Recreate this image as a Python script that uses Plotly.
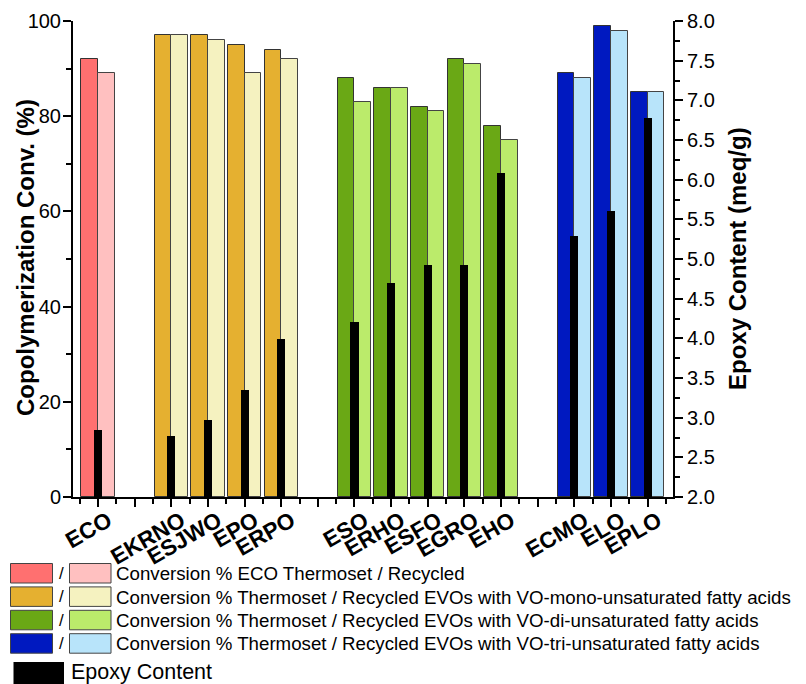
import plotly.graph_objects as go

# ---------------- data ----------------
group_members = [
    ["ECO"],
    ["EKRNO", "ESJWO", "EPO", "ERPO"],
    ["ESO", "ERHO", "ESFO", "EGRO", "EHO"],
    ["ECMO", "ELO", "EPLO"],
]
thermoset = [
    [92],
    [97, 97, 95, 94],
    [88, 86, 82, 92, 78],
    [89, 99, 85],
]
recycled = [
    [89],
    [97, 96, 89, 92],
    [83, 86, 81, 91, 75],
    [88, 98, 85],
]
epoxy = [
    [2.85],
    [2.77, 2.97, 3.35, 3.99],
    [4.20, 4.70, 4.93, 4.93, 6.09],
    [5.29, 5.61, 6.78],
]
legend_texts = [
    "Conversion % ECO Thermoset / Recycled",
    "Conversion % Thermoset / Recycled EVOs with VO-mono-unsaturated fatty acids",
    "Conversion % Thermoset / Recycled EVOs with VO-di-unsaturated fatty acids",
    "Conversion % Thermoset / Recycled EVOs with VO-tri-unsaturated fatty acids",
]
epoxy_label = "Epoxy Content"
left_title = "Copolymerization Conv. (%)"
right_title = "Epoxy Content (meq/g)"
y2_ticks = [2.0, 2.5, 3.0, 3.5, 4.0, 4.5, 5.0, 5.5, 6.0, 6.5, 7.0, 7.5, 8.0]

# ---------------- style ----------------
dark_colors = ["#FF7070", "#E5B030", "#6AA815", "#0019C0"]
light_colors = ["#FFC0C0", "#F5F2C0", "#BBEB6B", "#B8E4FA"]
FONT = "Liberation Sans, Arial, sans-serif"
OFF = 8  # page body margin of the browser
W, H = 806 - OFF, 684 - OFF
ML, MT = 65, 13
PW, PH = 600, 476
MR, MB = W - ML - PW, H - MT - PH

# positions: one empty slot between groups
positions = []
pos = 1
for members in group_members:
    p = []
    for _ in members:
        p.append(pos)
        pos += 1
    positions.append(p)
    pos += 1

tickvals = list(range(1, pos - 1))
ticktext = [""] * len(tickvals)
for members, p in zip(group_members, positions):
    for name, x in zip(members, p):
        ticktext[x - 1] = name

fig = go.Figure()
bw = 0.455
for gi in range(len(group_members)):
    fig.add_trace(go.Bar(
        x=positions[gi], y=thermoset[gi], width=bw, offset=-bw,
        marker=dict(color=dark_colors[gi], line=dict(color="#333333", width=1)),
        showlegend=False, yaxis="y"))
    fig.add_trace(go.Bar(
        x=positions[gi], y=recycled[gi], width=bw, offset=0,
        marker=dict(color=light_colors[gi], line=dict(color="#444444", width=1)),
        showlegend=False, yaxis="y"))

all_x = [x for p in positions for x in p]
all_e = [v for g in epoxy for v in g]
fig.add_trace(go.Bar(
    x=all_x, y=all_e, width=0.22, offset=-0.11,
    marker=dict(color="black", line=dict(width=0)),
    showlegend=False, yaxis="y2"))

# ---------------- legend & titles (manual, reference pixel coords) ----------------
def px2x(px):
    return (px - OFF - ML) / PW

def py2y(py):
    return (H - MB - (py - OFF)) / PH

shapes = []
annotations = []
row_top = 563.5
pitch = 23.4
for i in range(4):
    t = row_top + i * pitch
    b = t + 19.5
    shapes.append(dict(type="rect", xref="paper", yref="paper",
                       x0=px2x(10.5), x1=px2x(52.5), y0=py2y(b), y1=py2y(t),
                       fillcolor=dark_colors[i], line=dict(color="#444444", width=1)))
    shapes.append(dict(type="rect", xref="paper", yref="paper",
                       x0=px2x(69.5), x1=px2x(111), y0=py2y(b), y1=py2y(t),
                       fillcolor=light_colors[i], line=dict(color="#444444", width=1)))
    annotations.append(dict(xref="paper", yref="paper", x=px2x(61), y=py2y((t + b) / 2),
                            text="/", showarrow=False, xanchor="center", yanchor="middle",
                            font=dict(family=FONT, size=17, color="black")))
    annotations.append(dict(xref="paper", yref="paper", x=px2x(114), y=py2y((t + b) / 2 + 0.5),
                            text=legend_texts[i], showarrow=False, xanchor="left", yanchor="middle",
                            font=dict(family=FONT, size=18.7, color="black")))
shapes.append(dict(type="rect", xref="paper", yref="paper",
                   x0=px2x(13.5), x1=px2x(64), y0=py2y(690), y1=py2y(662),
                   fillcolor="black", line=dict(color="black", width=0)))
annotations.append(dict(xref="paper", yref="paper", x=px2x(69), y=py2y(671.5),
                        text=epoxy_label, showarrow=False, xanchor="left", yanchor="middle",
                        font=dict(family=FONT, size=21.5, color="black")))
annotations.append(dict(xref="paper", yref="paper", x=px2x(25), y=py2y(258),
                        text=left_title, showarrow=False, xanchor="center", yanchor="middle",
                        textangle=-90,
                        font=dict(family=FONT, size=24, color="black", weight="bold")))
annotations.append(dict(xref="paper", yref="paper", x=px2x(737), y=py2y(259),
                        text=right_title, showarrow=False, xanchor="center", yanchor="middle",
                        textangle=-90,
                        font=dict(family=FONT, size=24, color="black", weight="bold")))

fig.update_layout(
    width=W, height=H,
    margin=dict(l=ML, r=MR, t=MT, b=MB, autoexpand=False),
    barmode="overlay",
    bargap=0,
    plot_bgcolor="white", paper_bgcolor="white",
    font=dict(family=FONT, size=18, color="black"),
    shapes=shapes, annotations=annotations,
    xaxis=dict(range=[0.32, 16.69], tickmode="array", tickvals=tickvals, ticktext=ticktext,
               tickangle=-30, tickfont=dict(family=FONT, size=22.5, color="black", weight="bold"),
               ticklabelshift=10, ticklabelstandoff=-8,
               showline=True, linecolor="black", linewidth=2, mirror=False,
               ticks="outside", ticklen=8, tickwidth=2, tickcolor="black",
               minor=dict(tickmode="linear", tick0=0.5, dtick=1, ticks="outside", ticklen=5,
                          tickwidth=2, tickcolor="black"),
               showgrid=False, zeroline=False, fixedrange=True),
    yaxis=dict(range=[0, 100], tickvals=[0, 20, 40, 60, 80, 100],
               showline=True, linecolor="black", linewidth=2,
               ticks="outside", ticklen=8, tickwidth=2, tickcolor="black",
               ticklabelstandoff=-2,
               minor=dict(tickmode="linear", tick0=0, dtick=10, ticks="outside", ticklen=5,
                          tickwidth=2, tickcolor="black"),
               tickfont=dict(family=FONT, size=20, color="black"),
               showgrid=False, zeroline=False),
    yaxis2=dict(range=[2, 8], overlaying="y", side="right", anchor="x",
                tickvals=y2_ticks, ticktext=[f"{v:.1f}" for v in y2_ticks],
                showline=True, linecolor="black", linewidth=2,
                ticks="outside", ticklen=8, tickwidth=2, tickcolor="black",
                minor=dict(tickmode="linear", tick0=2, dtick=0.25, ticks="outside", ticklen=5,
                           tickwidth=2, tickcolor="black"),
                tickfont=dict(family=FONT, size=20, color="black"),
                showgrid=False, zeroline=False),
)

fig.write_html("out.html")
